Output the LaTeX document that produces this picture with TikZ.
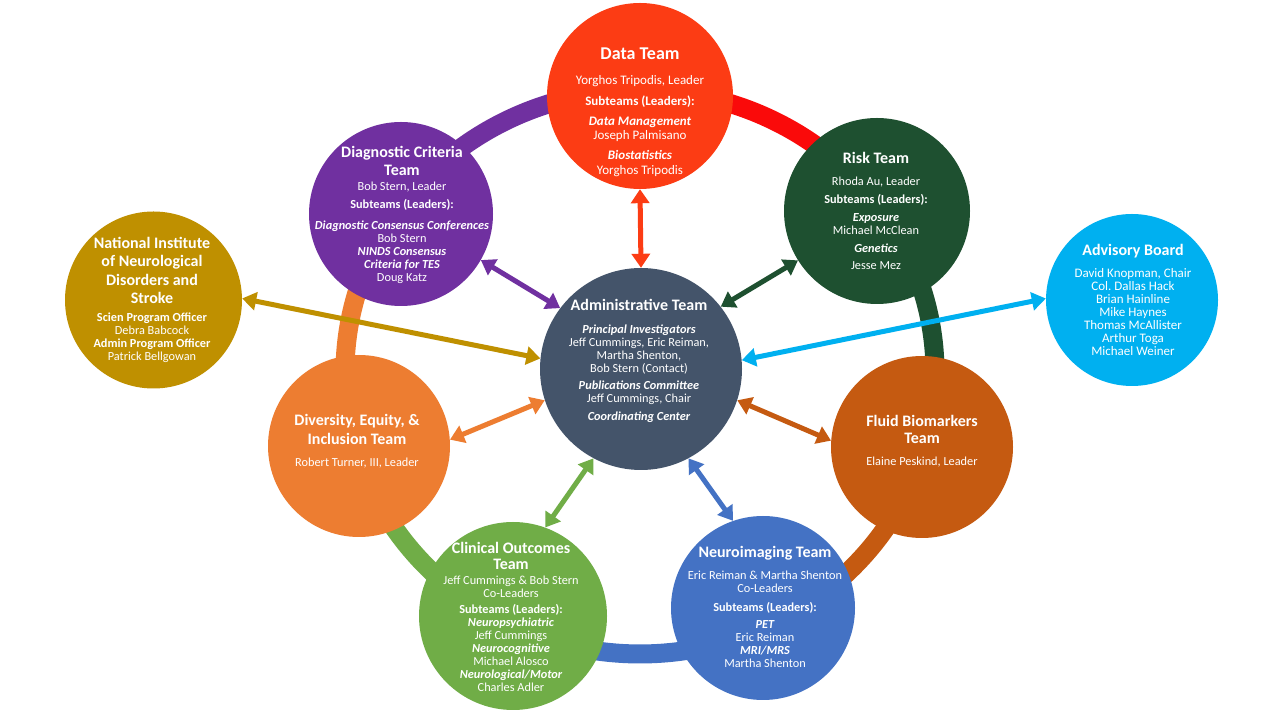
\documentclass[tikz,border=0pt]{standalone}
\usepackage{fontspec}
\setmainfont{Carlito}
\usetikzlibrary{arrows.meta}
\definecolor{dataC}{RGB}{252,60,20}
\definecolor{ringRed}{RGB}{250,10,10}
\definecolor{purpleC}{RGB}{112,48,160}
\definecolor{riskC}{RGB}{30,80,48}
\definecolor{nindsC}{RGB}{191,144,0}
\definecolor{advC}{RGB}{0,176,240}
\definecolor{adminC}{RGB}{68,84,106}
\definecolor{divC}{RGB}{237,125,49}
\definecolor{fluidC}{RGB}{197,90,17}
\definecolor{clinC}{RGB}{112,173,71}
\definecolor{neuroC}{RGB}{68,114,196}
\newcommand{\tmtitle}[1]{{\fontsize{16}{17}\selectfont\bfseries #1}}
\newcommand{\tmbi}[1]{{\bfseries\itshape #1}}
\newcommand{\tmbf}[1]{{\bfseries #1}}
\tikzset{
  team/.style={circle, inner sep=0pt, minimum size=#1},
  body/.style={text=white, align=center, inner sep=0pt, font=\fontsize{12.3}{13}\selectfont},
  link/.style={line width=5pt, {Triangle[length=14pt,width=18pt]}-{Triangle[length=14pt,width=18pt]}},
  ringseg/.style={line width=19pt},
}
\begin{document}
\begin{tikzpicture}[x=1pt,y=1pt]
\useasboundingbox[fill=white] (0,0) rectangle (1280,720);
% ring
\begin{scope}[shift={(640,348)}]
\draw[ringseg, purpleC] (145.3:295 and 282) arc[start angle=145.3, end angle=90, x radius=295, y radius=282];
\draw[ringseg, ringRed] (90:295 and 282) arc[start angle=90, end angle=35.4, x radius=295, y radius=282];
\draw[ringseg, riskC] (35.4:295 and 282) arc[start angle=35.4, end angle=-15.5, x radius=295, y radius=282];
\draw[ringseg, fluidC] (-15.5:295 and 282) arc[start angle=-15.5, end angle=-63.5, x radius=295, y radius=282];
\draw[ringseg, neuroC] (-63.5:295 and 282) arc[start angle=-63.5, end angle=-116.4, x radius=295, y radius=282];
\draw[ringseg, clinC] (-116.4:295 and 282) arc[start angle=-116.4, end angle=-164.6, x radius=295, y radius=282];
\draw[ringseg, divC] (195.4:295 and 282) arc[start angle=195.4, end angle=145.3, x radius=295, y radius=282];
\end{scope}
% circles
\node[team=186pt, fill=dataC] (data) at (640,624) {};
\node[team=184pt, fill=purpleC] (diag) at (401,506) {};
\node[team=186pt, fill=riskC] (risk) at (877,509) {};
\node[team=177pt, fill=nindsC] (ninds) at (153.5,420) {};
\node[team=172pt, fill=advC] (adv) at (1132,420) {};
\node[team=202pt, fill=adminC] (admin) at (641,351) {};
\node[team=182pt, fill=divC] (div) at (359,274) {};
\node[team=182pt, fill=fluidC] (fluid) at (922,273) {};
\node[team=188pt, fill=clinC] (clin) at (513,104) {};
\node[team=184pt, fill=neuroC] (neuro) at (763,112) {};
% arrows
\draw[link, dataC] (data.south) -- (admin.north);
\draw[link, purpleC] (diag.-30) -- (admin.143);
\draw[link, riskC] (risk.212) -- (admin.38);
\draw[link, nindsC] (ninds.1) -- (admin.174);
\draw[link, advC] (adv.179) -- (admin.5.5);
\draw[link, divC] (div.4) -- (admin.198);
\draw[link, fluidC] (fluid.176) -- (admin.-18);
\draw[link, clinC] (clin.70) -- (admin.242);
\draw[link, neuroC] (neuro.109) -- (admin.-62);
% texts
\node[body, font=\fontsize{13}{14}\selectfont] (tdata) at (640,607.5) {{\fontsize{18}{19}\selectfont\bfseries Data Team}\\[11pt] Yorghos Tripodis, Leader\\[7pt] \tmbf{Subteams (Leaders):}\\[6pt] \tmbi{Data Management}\\ Joseph Palmisano\\[6pt] \tmbi{Biostatistics}\\[1pt] Yorghos Tripodis};
\node[body] (tdiag) at (402,505.5) {\tmtitle{Diagnostic Criteria}\\[4pt] \tmtitle{Team}\\[2pt] Bob Stern, Leader\\[5pt] \tmbf{Subteams (Leaders):}\\[8pt] \tmbi{Diagnostic Consensus Conferences}\\ Bob Stern\\ \tmbi{NINDS Consensus}\\ \tmbi{Criteria for TES}\\ Doug Katz};
\node[body] (trisk) at (876,509) {\tmtitle{Risk Team}\\[9pt] Rhoda Au, Leader\\[5pt] \tmbf{Subteams (Leaders):}\\[5pt] \tmbi{Exposure}\\ Michael McClean\\[5pt] \tmbi{Genetics}\\[4pt] Jesse Mez};
\node[body] (tninds) at (152,420) {\tmtitle{National Institute}\\[4.5pt] \tmtitle{of Neurological}\\[4.5pt] \tmtitle{Disorders and}\\[4.5pt] \tmtitle{Stroke}\\[5pt] \tmbf{Scien Program Officer}\\ Debra Babcock\\ \tmbf{Admin Program Officer}\\ Patrick Bellgowan};
\node[body, font=\fontsize{13}{13}\selectfont] (tadv) at (1133,420) {\tmtitle{Advisory Board}\\[9pt] David Knopman, Chair\\ Col.\ Dallas Hack\\ Brian Hainline\\ Mike Haynes\\ Thomas McAllister\\ Arthur Toga\\ Michael Weiner};
\node[body] (tadmin) at (639,359.5) {\tmtitle{Administrative Team}\\[10pt] \tmbi{Principal Investigators}\\ Jeff Cummings, Eric Reiman,\\ Martha Shenton,\\ Bob Stern (Contact)\\[4pt] \tmbi{Publications Committee}\\ Jeff Cummings, Chair\\[5pt] \tmbi{Coordinating Center}};
\node[body] (tdiv) at (357,278.5) {\tmtitle{Diversity, Equity, \&}\\[4pt] \tmtitle{Inclusion Team}\\[9pt] Robert Turner, III, Leader};
\node[body] (tfluid) at (922,278.5) {\tmtitle{Fluid Biomarkers}\\[4pt] \tmtitle{Team}\\[9pt] Elaine Peskind, Leader};
\node[body] (tclin) at (511,103) {\tmtitle{Clinical Outcomes}\\[3pt] \tmtitle{Team}\\[2pt] Jeff Cummings \& Bob Stern\\ Co-Leaders\\[3pt] \tmbf{Subteams (Leaders):}\\ \tmbi{Neuropsychiatric}\\ Jeff Cummings\\ \tmbi{Neurocognitive}\\ Michael Alosco\\ \tmbi{Neurological/Motor}\\ Charles Adler};
\node[body] (tneuro) at (765,113) {\tmtitle{Neuroimaging Team}\\[9pt] Eric Reiman \& Martha Shenton\\ Co-Leaders\\[6pt] \tmbf{Subteams (Leaders):}\\[4pt] \tmbi{PET}\\ Eric Reiman\\ \tmbi{MRI/MRS}\\ Martha Shenton};
\end{tikzpicture}
\end{document}
